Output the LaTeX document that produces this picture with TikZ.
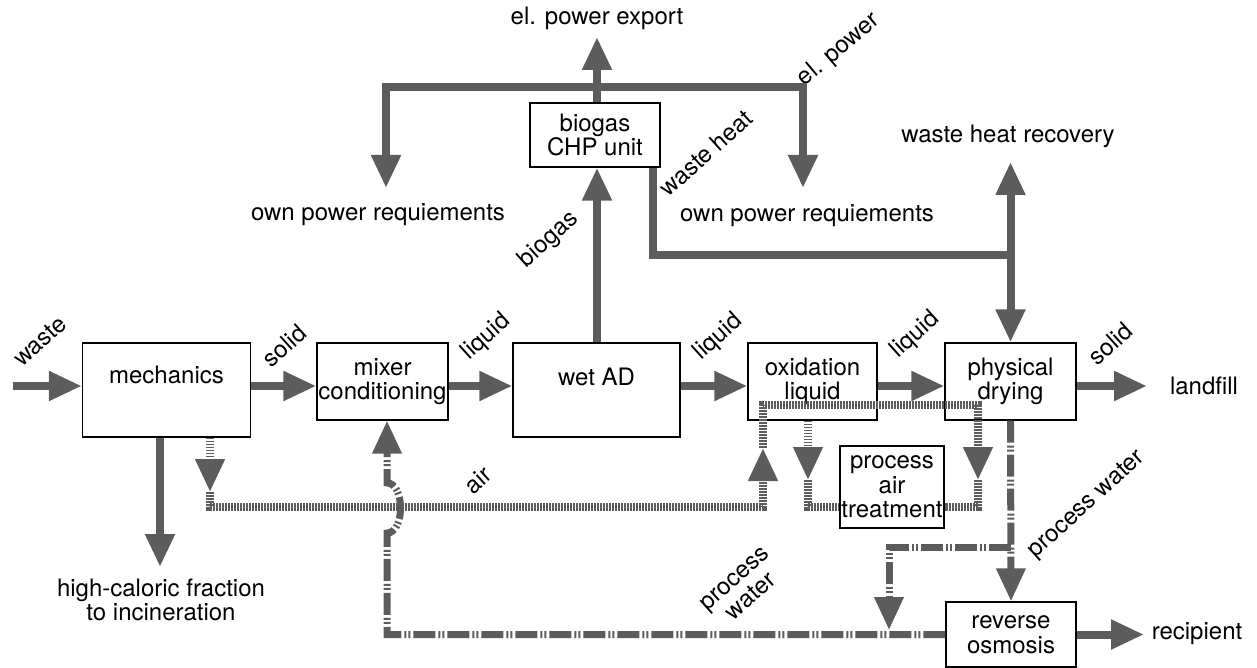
\documentclass[tikz,border=0pt]{standalone}
\usepackage{fontspec}
\setmainfont{TeX Gyre Heros}
\usetikzlibrary{arrows.meta,calc}
\definecolor{flowgray}{RGB}{92,92,92}
\begin{document}
\begin{tikzpicture}[x=1pt,y=-1pt,
  txt/.style={font=\fontsize{24}{24.5}\selectfont, align=center, inner sep=0pt},
  box/.style={txt, draw=black, line width=1.3pt, fill=white},
  tip/.style={-{Triangle[length=33pt,width=28pt]}},
  flow/.style={draw=flowgray, line width=8pt, line join=miter},
  air/.style={draw=flowgray, line width=7.5pt, dash pattern=on 1.8pt off 1.2pt},
  pw/.style={draw=flowgray, line width=7pt, dash pattern=on 22pt off 3pt on 2pt off 2pt on 2pt off 3pt},
]
\useasboundingbox (0,0) rectangle (1257,668);

% boxes
\node[box, minimum width=168pt, minimum height=94pt] (mech) at (166.5,390) {};
\node[txt] (mechT) at (166.5,375) {mechanics};
\node[box, minimum width=131pt, minimum height=77pt] (mix) at (382.5,381.5) {mixer\\conditioning};
\node[box, minimum width=167pt, minimum height=94pt] (wad) at (596.5,390) {};
\node[txt] (wadT) at (596.5,377) {wet AD};
\node[box, minimum width=129pt, minimum height=77pt] (ox) at (812.5,381.5) {oxidation\\liquid};
\node[box, minimum width=131pt, minimum height=77pt] (phys) at (1010.5,381.5) {physical\\drying};
\node[box, minimum width=130pt, minimum height=64pt] (chp) at (595,135) {biogas\\CHP unit};
\node[box, minimum width=104pt, minimum height=82pt] (pat) at (892,487) {process\\air\\treatment};
\node[box, minimum width=130pt, minimum height=65pt] (ro) at (1011,634.5) {reverse\\osmosis};

% coordinates
\coordinate (fy) at (0,386);
\coordinate (win) at (13,386);
\coordinate (lf) at (1147,386);
\coordinate (rec) at (1144,634.5);
\coordinate (exp) at (597,37);
\coordinate (pl) at (386,188);
\coordinate (plt) at (386,87);
\coordinate (prt) at (803,87);
\coordinate (pr) at (803,188);
\coordinate (whc) at (653,255);
\coordinate (whj) at (1010.5,255);
\coordinate (whr) at (1010.5,162);
\coordinate (hc) at (160,567);

% free texts
\node[txt] (tExp) at (597,18) {el. power export};
\node[txt, rotate=40] (tEl) at (839,50) {el. power};
\node[txt] (tOwnL) at (378,215) {own power requiements};
\node[txt] (tOwnR) at (807,216) {own power requiements};
\node[txt, rotate=42] (tWH) at (706,153) {waste heat};
\node[txt, rotate=42] (tBio) at (549,240) {biogas};
\node[txt] (tWHR) at (1008,136) {waste heat recovery};
\node[txt] (tLand) at (1204,386) {landfill};
\node[txt] (tRec) at (1197,634) {recipient};
\node[txt] (tHC) at (161,600) {high-caloric fraction\\to incineration};
\node[txt, rotate=42] (tWaste) at (40,341) {waste};
\node[txt, rotate=42] (tSol1) at (284,346) {solid};
\node[txt, rotate=42] (tLiq1) at (486,337) {liquid};
\node[txt, rotate=42] (tLiq2) at (718,337) {liquid};
\node[txt, rotate=42] (tLiq3) at (915,335) {liquid};
\node[txt, rotate=42] (tSol2) at (1110,344) {solid};
\node[txt, rotate=42] (tAir) at (478,480) {air};
\node[txt, rotate=42] (tPW1) at (743,588) {process\\water};
\node[txt, rotate=42] (tPW2) at (1087,505) {process water};

% main flow
\draw[flow, tip] (win) -- (mech.west |- fy);
\draw[flow, tip] (mech.east |- fy) -- (mix.west |- fy);
\draw[flow, tip] (mix.east |- fy) -- (wad.west |- fy);
\draw[flow, tip] (wad.east |- fy) -- (ox.west |- fy);
\draw[flow, tip] (ox.east |- fy) -- (phys.west |- fy);
\draw[flow, tip] (phys.east |- fy) -- (lf);
\draw[flow, tip] (ro.east) -- (rec);
\draw[flow, tip] (mech.south -| hc) -- (hc);

% biogas and power
\draw[flow, tip] (wad.north -| exp) -- (chp.south -| exp);
\draw[flow, tip] (chp.north -| exp) -- (exp);
\draw[flow, {Triangle[length=33pt,width=28pt]}-{Triangle[length=33pt,width=28pt]}] (pl) -- (plt) -- (prt) -- (pr);

% waste heat
\draw[flow, tip] (chp.south -| whc) -- (whc) -- (whj) -- (phys.north);
\draw[flow, tip] (whj) -- (whr);

% air
\coordinate (a1) at (210,492);
\coordinate (a2) at (210,507);
\coordinate (a3) at (763,507);
\coordinate (a4) at (763,448);
\coordinate (a5) at (763,405);
\coordinate (a6) at (978,405);
\coordinate (a7) at (978,480);
\coordinate (a8) at (978,507);
\coordinate (b1) at (808,480);
\coordinate (b2) at (808,507);
\draw[air, tip] (mech.south -| a1) -- (a1);
\draw[air, tip] (a1) -- (a2) -- (a3) -- (a4);
\draw[air, tip] (a4) -- (a5) -- (a6) -- (a7);
\draw[air] (a7) -- (a8) -- (pat.east |- a8);
\draw[air, tip] (ox.south -| b1) -- (b1);
\draw[air] (b1) -- (b2) -- (pat.west |- b2);

% process water
\coordinate (w1) at (1010.5,547);
\coordinate (w2) at (889,547);
\coordinate (w3) at (889,630);
\coordinate (w4) at (387,634.5);
\coordinate (w5) at (387,533);
\coordinate (w6) at (387,483);
\draw[pw, tip] (phys.south) -- (ro.north);
\draw[pw, tip] (w1) -- (w2) -- (w3);
\draw[pw, tip] (ro.west) -- (w4) -- (w5) .. controls (405,533) and (405,483) .. (w6) -- (mix.south -| w6);
\end{tikzpicture}
\end{document}
